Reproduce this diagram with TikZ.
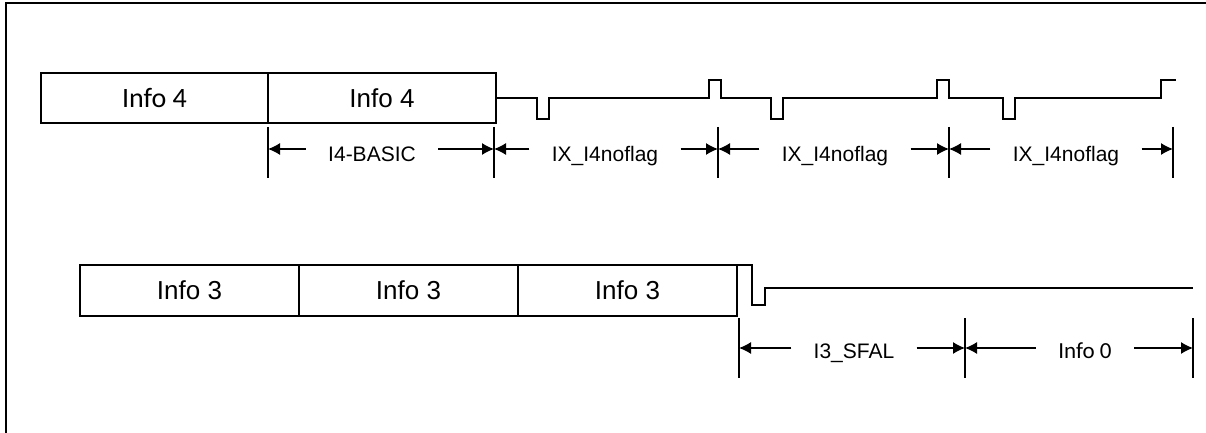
\documentclass[tikz,border=0pt]{standalone}
\usepackage{fontspec}
\setmainfont{Liberation Sans}
\newfontfamily\calib{Carlito}
\usetikzlibrary{positioning,arrows.meta}
\begin{document}
\begin{tikzpicture}[x=.5pt, y=-.5pt, >={Latex[length=6pt,width=6pt]},
  field/.style={draw, line width=.7pt, minimum height=25pt, inner sep=0pt, outer sep=0pt,
    font=\fontsize{13}{15}\selectfont},
  dim/.style={inner xsep=11pt, inner ysep=0pt, anchor=base, font=\fontsize{10.5}{12}\selectfont},
  sig/.style={line width=.65pt}]
 \useasboundingbox (0,0) rectangle (1206,433);
 \draw[line width=1.2pt](1206,3)--(6,3)--(6,433);
 % upper row
 \node[field, minimum width=113.5pt, anchor=north west] (i4a) at (41,73) {\calib\fontsize{14}{16}\selectfont Info 4};
 \node[field, minimum width=114pt, right=0pt of i4a] (i4b) {Info 4};
 \draw[sig](i4b.east)--(537,98)--(537,119)--(549,119)--(549,98)--(709,98)--(709,80)--(721,80)--(721,98)
   --(771,98)--(771,119)--(783,119)--(783,98)--(937,98)--(937,80)--(949,80)--(949,98)
   --(1003,98)--(1003,119)--(1015,119)--(1015,98)--(1161,98)--(1161,80)--(1176,80);
 \foreach \x [count=\i] in {268,494,718,949,1173}
 {
     \draw[line width=.6pt](\x,127)--(\x,178);
     \coordinate (u\i) at (\x,149);
 }
 \node[dim] (basic) at (372,162) {I4-BASIC};
 \node[dim] (nof1) at (605,162) {IX\_I4noflag};
 \node[dim] (nof2) at (835,162) {IX\_I4noflag};
 \node[dim] (nof3) at (1066,162) {IX\_I4noflag};
 \foreach \l/\i/\j in {basic/1/2, nof1/2/3, nof2/3/4, nof3/4/5}
 {
     \draw[->, line width=.6pt](\l.west|-u\i)--(u\i);
     \draw[->, line width=.6pt](\l.east|-u\j)--(u\j);
 }
 % lower row
 \node[field, minimum width=109.5pt, minimum height=25.5pt, anchor=north west] (i3a) at (80,265) {Info 3};
 \node[field, minimum width=109.5pt, minimum height=25.5pt, right=0pt of i3a] (i3b) {Info 3};
 \node[field, minimum width=109.5pt, minimum height=25.5pt, right=0pt of i3b] (i3c) {Info 3};
 \draw[sig](i3c.north east)--(752,265)--(752,305)--(765,305)--(765,288)--(1193,288);
 \foreach \x [count=\i] in {739,965,1193}
 {
     \draw[line width=.6pt](\x,318)--(\x,378);
     \coordinate (w\i) at (\x,348);
 }
 \node[dim] (sfal) at (854,358) {I3\_SFAL};
 \node[dim, font=\calib\fontsize{11.5}{13}\selectfont] (inf0) at (1085,358) {Info 0};
 \foreach \l/\i/\j in {sfal/1/2, inf0/2/3}
 {
     \draw[->, line width=.6pt](\l.west|-w\i)--(w\i);
     \draw[->, line width=.6pt](\l.east|-w\j)--(w\j);
 }
\end{tikzpicture}
\end{document}
